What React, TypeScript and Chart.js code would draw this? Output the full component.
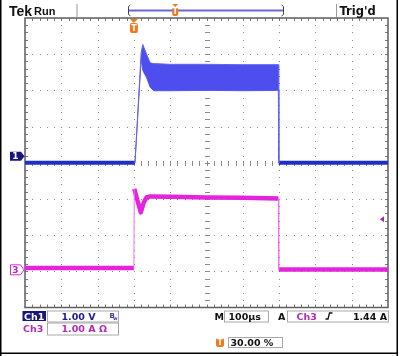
import React, { useEffect, useRef } from "react";
import { Chart, registerables } from "chart.js";
Chart.register(...registerables);

// Horizontal: 100 µs/div, trigger (t = 0) at 30 % of the record
const timeTicks = [-300, -200, -100, 0, 100, 200, 300, 400, 500, 600, 700];
// Vertical: 8 divisions, Ch1 1.00 V/div (ground at centre)
const voltTicks = [-4, -3, -2, -1, 0, 1, 2, 3, 4];
// Ch3 1.00 A/div, ground 3 div below centre
const ampMin = -1;
const ampMax = 7;
const trigLevelAmps = 1.44;

// Ch1 voltage (V)
const ch1PreTime = [-300, 3];
const ch1PreVolts = [0, 0];
const ch1PulseTime = [3, 20, 24.5, 35, 45, 55, 100, 200, 300, 398, 399];
const ch1PulseUpper = [0, 3.05, 3.27, 3.0, 2.76, 2.74, 2.72, 2.72, 2.71, 2.71, 0];
const ch1PulseLower = [0, 2.85, 2.55, 2.35, 2.08, 1.99, 1.99, 2.0, 1.99, 2.0, 0];
const ch1PostTime = [399, 700];
const ch1PostVolts = [0, 0];

// Ch3 current (A)
const ch3PreTime = [-300, 0];
const ch3PreAmps = [0.09, 0.09];
const ch3PulseTime = [1, 10, 19, 27, 35, 45, 100, 200, 300, 398];
const ch3PulseAmps = [2.28, 1.95, 1.63, 1.9, 2.04, 2.07, 2.06, 2.04, 2.03, 2.01];
const ch3PostTime = [399, 700];
const ch3PostAmps = [0.05, 0.05];

const pts = (t: number[], v: number[]) => t.map((x, i) => ({ x, y: v[i] }));

const BLUE_BASE = "#1e2ec8";
const BLUE_BAND = "#4e4eee";
const MAGENTA = "#e424dc";
const MAG_TEXT = "#b42eb4";
const NAVY = "#16167e";
const ORANGE = "#f07a1e";
const FONT = "DejaVu Sans";

const graticule = {
  id: "graticule",
  beforeDatasetsDraw(chart: any) {
    const { ctx, chartArea: a, scales } = chart;
    const xs = scales.x;
    const ys = scales.y;
    const w = a.right - a.left;
    const h = a.bottom - a.top;
    const sx = w / 50;
    const sy = h / 40;
    ctx.save();
    const cx = Math.round(xs.getPixelForValue(200));
    const cy = Math.round(ys.getPixelForValue(0));
    ctx.fillStyle = "#8c8c8c";
    timeTicks.slice(1, -1).forEach((t) => {
      const px = Math.round(xs.getPixelForValue(t));
      for (let k = 1; k < 40; k++) {
        const py = Math.round(a.top + k * sy);
        if (px === cx) ctx.fillRect(px - 2, py, 5, 1);
        else ctx.fillRect(px, py, 1, 1);
      }
    });
    voltTicks.slice(1, -1).forEach((v) => {
      const py = Math.round(ys.getPixelForValue(v));
      for (let k = 1; k < 50; k++) {
        const px = Math.round(a.left + k * sx);
        if (py === cy) ctx.fillRect(px, py - 2, 1, 5);
        else ctx.fillRect(px, py, 1, 1);
      }
    });
    // border ticks
    ctx.fillStyle = "#7a7a7a";
    for (let k = 1; k < 50; k++) {
      const px = Math.round(a.left + k * sx);
      ctx.fillRect(px, a.top, 1, 3);
      ctx.fillRect(px, a.bottom - 3, 1, 3);
    }
    for (let k = 1; k < 40; k++) {
      const py = Math.round(a.top + k * sy);
      ctx.fillRect(a.left, py, 3, 1);
      ctx.fillRect(a.right - 3, py, 3, 1);
    }
    ctx.strokeStyle = "#5e5e5e";
    ctx.lineWidth = 1.5;
    ctx.strokeRect(a.left, a.top, w, h);
    ctx.restore();
  },
};

function tBadge(ctx: any, x: number, y: number, wd: number, ht: number) {
  ctx.fillStyle = ORANGE;
  ctx.beginPath();
  if (ctx.roundRect) ctx.roundRect(x, y, wd, ht, 2);
  else ctx.rect(x, y, wd, ht);
  ctx.fill();
  ctx.fillStyle = "#fff";
  ctx.font = `bold 8px ${FONT}`;
  ctx.textAlign = "center";
  ctx.textBaseline = "middle";
  ctx.fillText("T", x + wd / 2, y + ht / 2 + 0.5);
  ctx.textAlign = "left";
  ctx.textBaseline = "alphabetic";
}

const overlay = {
  id: "overlay",
  afterDraw(chart: any) {
    const { ctx, chartArea: a, scales } = chart;
    const xs = scales.x;
    const ys = scales.y;
    const y3 = scales.y3;
    ctx.save();
    // outer frame
    ctx.fillStyle = "#000";
    ctx.fillRect(0, 0, 1.5, 356);
    ctx.fillRect(396.5, 0, 1.5, 356);
    ctx.fillRect(0, 352.5, 398, 1.5);

    // top status line
    ctx.fillStyle = "#111";
    ctx.font = `bold 14px Liberation Sans`;
    ctx.fillText("Tek", 9, 15.5);
    ctx.font = `bold 11px Liberation Sans`;
    ctx.fillText("Run", 34, 15);
    ctx.fillStyle = "#9a9a9a";
    ctx.fillRect(76.5, 4, 1, 13);
    ctx.fillRect(336, 4, 1, 13);
    ctx.fillStyle = "#111";
    ctx.font = `bold 11.5px ${FONT}`;
    ctx.fillText("Trig'd", 339.5, 15);

    // record view bar
    ctx.strokeStyle = "#444";
    ctx.lineWidth = 1;
    ctx.beginPath();
    ctx.moveTo(130.5, 5);
    ctx.lineTo(128.5, 6.5);
    ctx.lineTo(128.5, 14.5);
    ctx.lineTo(130.5, 16);
    ctx.moveTo(281.5, 5);
    ctx.lineTo(283.5, 6.5);
    ctx.lineTo(283.5, 14.5);
    ctx.lineTo(281.5, 16);
    ctx.stroke();
    ctx.strokeStyle = "#6a6ad2";
    ctx.lineWidth = 2;
    ctx.beginPath();
    ctx.moveTo(129, 10.5);
    ctx.lineTo(283, 10.5);
    ctx.stroke();
    const recX = 129 + (283 - 129) * 0.3;
    ctx.fillStyle = ORANGE;
    ctx.beginPath();
    ctx.moveTo(recX - 3, 4);
    ctx.lineTo(recX + 3, 4);
    ctx.lineTo(recX, 7);
    ctx.fill();
    tBadge(ctx, recX - 3, 7, 6, 9);

    // trigger position marker in graticule
    const tx = xs.getPixelForValue(0);
    ctx.fillStyle = ORANGE;
    ctx.beginPath();
    ctx.moveTo(tx - 4, a.top + 1);
    ctx.lineTo(tx + 4, a.top + 1);
    ctx.lineTo(tx, a.top + 5);
    ctx.fill();
    tBadge(ctx, tx - 4, a.top + 5, 8, 10);

    // channel ground markers
    const g1 = ys.getPixelForValue(0) - 6.5;
    ctx.fillStyle = NAVY;
    ctx.beginPath();
    ctx.moveTo(10, g1 - 4.5);
    ctx.lineTo(21, g1 - 4.5);
    ctx.lineTo(24.5, g1);
    ctx.lineTo(21, g1 + 4.5);
    ctx.lineTo(10, g1 + 4.5);
    ctx.closePath();
    ctx.fill();
    ctx.fillStyle = "#fff";
    ctx.font = `bold 9px ${FONT}`;
    ctx.textAlign = "center";
    ctx.textBaseline = "middle";
    ctx.fillText("1", 15.5, g1 + 0.5);
    const g3 = y3.getPixelForValue(0) - 1.5;
    ctx.fillStyle = "#fff";
    ctx.strokeStyle = MAGENTA;
    ctx.lineWidth = 1;
    ctx.beginPath();
    ctx.moveTo(10.5, g3 - 5);
    ctx.lineTo(20.5, g3 - 5);
    ctx.lineTo(24, g3);
    ctx.lineTo(20.5, g3 + 5);
    ctx.lineTo(10.5, g3 + 5);
    ctx.closePath();
    ctx.fill();
    ctx.stroke();
    ctx.fillStyle = MAG_TEXT;
    ctx.fillText("3", 15.5, g3 + 0.5);
    ctx.textAlign = "left";
    ctx.textBaseline = "alphabetic";

    // trigger level marker
    const tl = y3.getPixelForValue(trigLevelAmps);
    ctx.fillStyle = "#a02aa0";
    ctx.beginPath();
    ctx.moveTo(380, tl);
    ctx.lineTo(384, tl - 3);
    ctx.lineTo(384, tl + 3);
    ctx.closePath();
    ctx.fill();

    // bottom readouts
    const box = (x: number, y: number, wd: number, ht: number) => {
      ctx.strokeStyle = "#a8a8a8";
      ctx.lineWidth = 1;
      ctx.strokeRect(x + 0.5, y + 0.5, wd, ht);
    };
    ctx.font = `bold 9.5px ${FONT}`;
    ctx.fillStyle = NAVY;
    ctx.fillRect(22.5, 311, 23.5, 10);
    ctx.fillStyle = "#fff";
    ctx.fillText("Ch1", 24, 319.5);
    box(47, 310.5, 71, 11);
    ctx.fillStyle = "#1c1c92";
    ctx.fillText("1.00 V", 61.5, 319.5);
    ctx.fillStyle = "#3a3ab0";
    ctx.font = `bold 7px ${FONT}`;
    ctx.fillText("B", 109.5, 317.5);
    ctx.font = `bold 5px ${FONT}`;
    ctx.fillText("w", 113, 320);

    ctx.font = `bold 9.5px ${FONT}`;
    ctx.fillStyle = MAG_TEXT;
    ctx.fillText("Ch3", 23, 332);
    box(47, 322.5, 71, 12);
    ctx.fillText("1.00 A \u03A9", 61.5, 332);

    ctx.fillStyle = "#111";
    ctx.fillText("M", 214.5, 319.5);
    box(224, 310.5, 44, 11);
    ctx.fillText("100\u00B5s", 228.5, 319.5);
    ctx.fillText("A", 278, 319.5);
    box(287, 310.5, 101, 11);
    ctx.fillStyle = MAG_TEXT;
    ctx.fillText("Ch3", 296.5, 319.5);
    ctx.strokeStyle = "#111";
    ctx.lineWidth = 1.3;
    ctx.beginPath();
    ctx.moveTo(325.5, 319);
    ctx.lineTo(328, 319);
    ctx.lineTo(329.5, 313);
    ctx.lineTo(332.5, 313);
    ctx.stroke();
    ctx.fillStyle = "#111";
    ctx.textAlign = "right";
    ctx.fillText("1.44 A", 387, 319.5);
    ctx.textAlign = "left";

    tBadge(ctx, 216, 338, 8, 9);
    box(228, 337, 54, 10);
    ctx.fillStyle = "#111";
    ctx.font = `bold 9.5px ${FONT}`;
    ctx.fillText("30.00 %", 230.5, 346);
    ctx.restore();
  },
};

export default function App() {
  const ref = useRef<HTMLCanvasElement | null>(null);
  useEffect(() => {
    document.body.style.margin = "0";
    const line = (data: any[], color: string, width: number, yAxisID: string, extra: any = {}) => ({
      data,
      borderColor: color,
      borderWidth: width,
      pointRadius: 0,
      tension: 0,
      fill: false,
      yAxisID,
      ...extra,
    });
    const ch3Rise = [
      { x: ch3PreTime[ch3PreTime.length - 1], y: ch3PreAmps[ch3PreAmps.length - 1] },
      { x: ch3PulseTime[0], y: ch3PulseAmps[0] },
    ];
    const ch3Fall = [
      { x: ch3PulseTime[ch3PulseTime.length - 1], y: ch3PulseAmps[ch3PulseAmps.length - 1] },
      { x: ch3PostTime[0], y: ch3PostAmps[0] },
    ];
    const chart = new Chart(ref.current as HTMLCanvasElement, {
      type: "line",
      data: {
        datasets: [
          line(pts(ch1PulseTime, ch1PulseUpper), "#6464f4", 1, "y", { fill: "+1", backgroundColor: BLUE_BAND }),
          line(pts(ch1PulseTime, ch1PulseLower), "#6464f4", 1, "y"),
          line(pts(ch1PreTime, ch1PreVolts), BLUE_BASE, 4, "y"),
          line(pts(ch1PostTime, ch1PostVolts), BLUE_BASE, 4, "y"),
          line(ch3Rise, "#f070f0", 1, "y3"),
          line(ch3Fall, "#f070f0", 1, "y3"),
          line(pts(ch3PreTime, ch3PreAmps), MAGENTA, 4.5, "y3"),
          line(pts(ch3PulseTime, ch3PulseAmps), MAGENTA, 4.5, "y3", { borderJoinStyle: "round" }),
          line(pts(ch3PostTime, ch3PostAmps), MAGENTA, 4.5, "y3"),
        ],
      },
      options: {
        responsive: false,
        animation: false,
        devicePixelRatio: 1,
        layout: { padding: { left: 25, top: 18, right: 12, bottom: 48.5 } },
        plugins: { legend: { display: false }, tooltip: { enabled: false } },
        scales: {
          x: { type: "linear", min: timeTicks[0], max: timeTicks[timeTicks.length - 1], display: false },
          y: { type: "linear", min: voltTicks[0], max: voltTicks[voltTicks.length - 1], display: false },
          y3: { type: "linear", min: ampMin, max: ampMax, display: false },
        },
      },
      plugins: [graticule, overlay],
    });
    return () => chart.destroy();
  }, []);
  return <canvas ref={ref} width={400} height={356} style={{ display: "block" }} />;
}
